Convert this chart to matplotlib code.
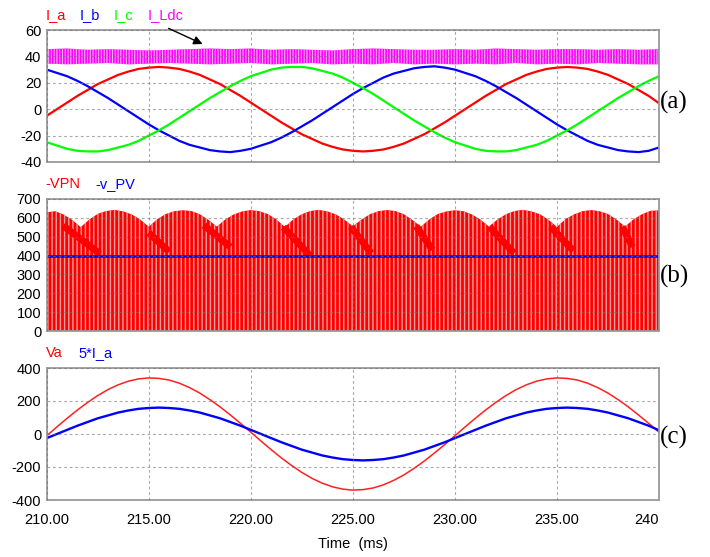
import numpy as np
import matplotlib
matplotlib.use("Agg")
import matplotlib.pyplot as plt

plt.rcParams['font.family'] = ['Liberation Sans', 'DejaVu Sans']
plt.rcParams['axes.unicode_minus'] = False

# ---- data ---------------------------------------------------------------
# phase currents, sampled every 0.5 ms from 210 ms to 240 ms
t = np.arange(210.0, 240.0 + 0.25, 0.5)

i_a = [-5, 0, 5, 10, 14.5, 19, 22.5, 26, 28.5, 30.5, 31.5, 32, 31.5, 30.5, 28.5, 26,
       22.5, 19, 14.5, 10, 5, 0, -5, -10, -14.5, -19, -22.5, -26, -28.5, -30.5, -31.5,
       -32, -31.5, -30.5, -28.5, -26, -22.5, -19, -14.5, -10, -5, 0, 5, 10, 14.5, 19,
       22.5, 26, 28.5, 30.5, 31.5, 32, 31.5, 30.5, 28.5, 26, 22.5, 19, 14.5, 10, 4.5]
i_b = [30, 27.5, 25, 21.5, 17.5, 13, 8.5, 3.5, -1.5, -6.5, -11.5, -16, -20, -24, -27,
       -29, -31, -32, -32.5, -31.5, -30, -27.5, -25, -21.5, -17.5, -13, -8.5, -3.5, 1.5,
       6.5, 11.5, 16, 20, 24, 27, 29, 31, 32, 32.5, 31.5, 30, 27.5, 25, 21.5, 17.5, 13,
       8.5, 3.5, -1.5, -6.5, -11.5, -16, -20, -24, -27, -29, -31, -32, -32.5, -31.5, -29]
i_c = [-25, -27.5, -30, -31.5, -32, -32, -31, -29, -27, -24, -20, -16, -11.5, -6.5, -1.5,
       3.5, 8.5, 13, 17.5, 21.5, 25, 27.5, 30, 31.5, 32, 32, 31, 29, 27, 24, 20, 16, 11.5,
       6.5, 1.5, -3.5, -8.5, -13, -17.5, -21.5, -25, -27.5, -30, -31.5, -32, -32, -31,
       -29, -27, -24, -20, -16, -11.5, -6.5, -1.5, 3.5, 8.5, 13, 17.5, 21.5, 25]

# DC-link inductor current: ripple band limits, every 1 ms
t_ldc = np.arange(210.0, 240.0 + 0.5, 1.0)
i_ldc_hi = [45.5, 46, 45, 45.5, 45, 44.5, 45, 45.5, 46, 45.5, 46, 45, 45.5, 45, 44.5,
            45.5, 46, 45.5, 45, 45, 45.5, 45, 46, 45.5, 45, 45.5, 45.5, 45, 45.5, 45, 45.5]
i_ldc_lo = [34.5, 34, 34.5, 35, 34, 34.5, 35, 34.5, 34, 34.5, 35, 34, 34.5, 35, 34,
            34.5, 34, 35, 34, 34.5, 34, 34.5, 34, 35, 34, 34.5, 34, 35, 34.5, 34, 34]

# rectifier DC voltage: upper envelope of the switched pulses
t_vpn = np.linspace(210.0, 240.0, 73)
vpn_top = [628, 634, 616, 588, 550, 590, 620, 635,
           641, 633, 617, 590, 552, 592, 619, 634,
           639, 635, 618, 589, 553, 590, 617, 633,
           640, 634, 619, 591, 551, 591, 618, 635,
           641, 633, 617, 590, 554, 589, 618, 634,
           640, 635, 618, 588, 552, 591, 619, 633,
           639, 634, 617, 590, 553, 590, 618, 635,
           641, 633, 618, 589, 551, 592, 617, 634,
           640, 634, 619, 590, 553, 591, 618, 636,
           638]
# falling intermediate line-to-line segments inside each sector
ridge_t0 = [210.8, 215.0, 217.7, 221.6, 224.9, 228.1, 231.7, 234.7, 238.2]
ridge_t1 = [212.6, 216.0, 219.0, 222.9, 225.9, 228.9, 232.9, 235.8, 238.7]
ridge_v0 = [558, 520, 560, 550, 552, 555, 552, 552, 552]
ridge_v1 = [410, 420, 445, 400, 412, 430, 412, 425, 445]

# PV voltage
t_pv = [210.0, 240.0]
v_pv = [400, 400]

# phase-a grid voltage, every 0.5 ms
v_a = [-11, 43, 95, 145, 191, 233, 269, 298, 320, 334, 340, 337, 327, 308, 281, 248,
       208, 164, 115, 64, 11, -43, -95, -145, -191, -233, -269, -298, -320, -334, -340,
       -337, -327, -308, -281, -248, -208, -164, -115, -64, -11, 43, 95, 145, 191, 233,
       269, 298, 320, 334, 340, 337, 327, 308, 281, 248, 208, 164, 115, 64, 11]
ia_scale = 5

x_ticks = [210, 215, 220, 225, 230, 235, 240]
x_labels = ['210.00', '215.00', '220.00', '225.00', '230.00', '235.00', '240']

# ---- figure -------------------------------------------------------------
W, H = 710, 557
fig = plt.figure(figsize=(W / 100, H / 100), dpi=100)
fig.patch.set_facecolor('white')


def px_axes(left, top, right, bottom):
    return fig.add_axes([left / W, 1 - bottom / H, (right - left) / W, (bottom - top) / H])


def style(ax, ylim, yticks, show_x=False):
    ax.set_xlim(210, 240)
    ax.set_ylim(*ylim)
    ax.set_yticks(yticks)
    ax.set_yticklabels([str(v) for v in yticks])
    ax.set_xticks(x_ticks)
    ax.set_xticklabels(x_labels)
    ax.tick_params(length=0, labelsize=10.5, pad=4)
    ax.tick_params(axis='x', pad=9, labelbottom=show_x)
    if show_x:
        ax.get_xticklabels()[-1].set_horizontalalignment('right')
    for s in ax.spines.values():
        s.set_color('#9a9a9a')
        s.set_linewidth(1.3)
    ax.grid(True, color='#707070', linestyle=(0, (2.5, 2.5)), linewidth=0.8, alpha=0.6)
    ax.set_axisbelow(False)


def legend_text(x, y, s, color):
    fig.text(x / W, 1 - y / H, s, color=color, fontsize=10.5, ha='left', va='center')


# (a) currents
ax_a = px_axes(46.7, 30, 659, 162)
plt.rcParams['hatch.linewidth'] = 0.8
ax_a.fill_between(t_ldc, i_ldc_lo, i_ldc_hi, facecolor='#ff00ff', edgecolor='#ffa6ff',
                  hatch='||||||', linewidth=0)
ax_a.plot(t, i_a, color='#ff0000', lw=1.6)
ax_a.plot(t, i_b, color='#0000ff', lw=1.6)
ax_a.plot(t, i_c, color='#00ff00', lw=1.6)
style(ax_a, (-40, 60), [60, 40, 20, 0, -20, -40])
ax_a.annotate('', xy=(217.76, 48.5), xytext=(215.85, 62.1),
              arrowprops=dict(arrowstyle='-|>', color='black', lw=1.0, mutation_scale=13),
              annotation_clip=False)
legend_text(46, 15, 'I_a', '#ff0000')
legend_text(80, 15, 'I_b', '#0000ff')
legend_text(114, 15, 'I_c', '#00ff00')
legend_text(148, 15, 'I_Ldc', '#ff00ff')

# (b) DC voltages
ax_b = px_axes(46.7, 198.7, 659, 331.3)
plt.rcParams['hatch.linewidth'] = 1.0
ax_b.fill_between(t_vpn, 0, vpn_top, facecolor='#ff0000', edgecolor='#ff9c9c',
                  hatch='||||', linewidth=0)
for x0, x1, y0, y1 in zip(ridge_t0, ridge_t1, ridge_v0, ridge_v1):
    ax_b.plot([x0, x1], [y0, y1], color='#ff0000', lw=5, solid_capstyle='butt')
ax_b.plot(t_pv, v_pv, color='#0000ff', lw=1.8)
style(ax_b, (0, 700), [700, 600, 500, 400, 300, 200, 100, 0])
legend_text(45, 184, '-VPN', '#ff0000')
legend_text(95, 184, '-v_PV', '#0000ff')

# (c) grid voltage and scaled current
ax_c = px_axes(46.7, 368, 659, 500)
ax_c.plot(t, v_a, color='#ff2020', lw=1.1)
ax_c.plot(t, ia_scale * np.asarray(i_a), color='#0000ff', lw=1.7)
style(ax_c, (-400, 400), [400, 200, 0, -200, -400], show_x=True)
legend_text(46, 353, 'Va', '#ff0000')
legend_text(78, 353, '5*I_a', '#0000ff')

fig.text(353 / W, 1 - 544 / H, 'Time  (ms)', fontsize=10.5, ha='center', va='center')

for lab, y in (('(a)', 102), ('(b)', 276), ('(c)', 437)):
    fig.text(660 / W, 1 - y / H, lab, fontsize=18, ha='left', va='center',
             family=['Liberation Serif', 'DejaVu Serif'])

fig.savefig('out.png', dpi=100, facecolor='white')
